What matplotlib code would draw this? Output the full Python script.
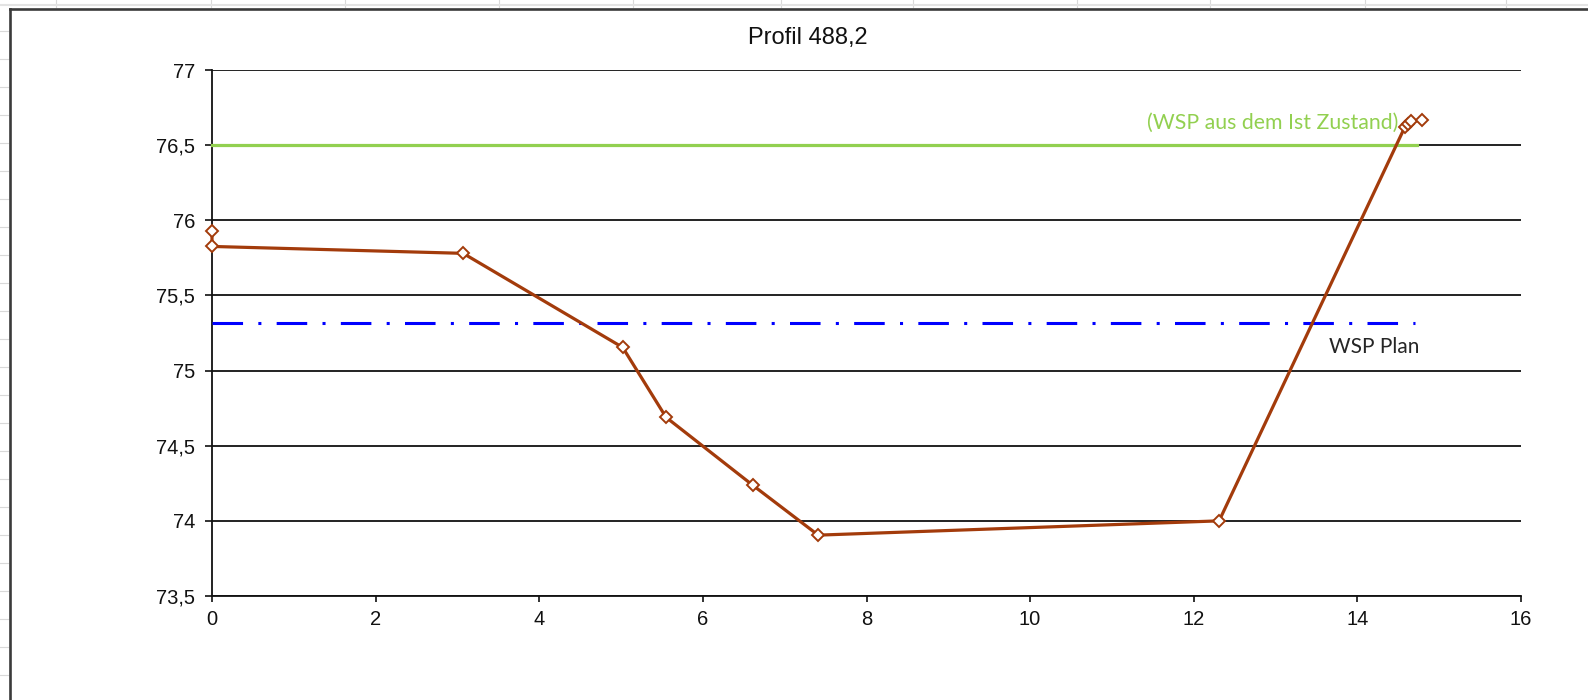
import numpy as np
import matplotlib
matplotlib.use("Agg")
import matplotlib.pyplot as plt
from matplotlib.lines import Line2D
from matplotlib.ticker import FuncFormatter

# Profil 488,2 - Gelaendepunkte (Station, Hoehe)
station = [0.0, 0.0, 3.07, 5.02, 5.55, 6.61, 7.41, 12.31, 14.58, 14.62, 14.66, 14.79]
hoehe = [75.926, 75.826, 75.78, 75.154, 74.689, 74.237, 73.905, 74.0, 76.62, 76.64, 76.66, 76.665]

# Wasserspiegel
wsp_ist_x = [0.0, 14.73]
wsp_ist_y = [76.5, 76.5]
wsp_plan_x = [0.0, 14.70]
wsp_plan_y = [75.315, 75.315]

titel = "Profil 488,2"
label_ist = "(WSP aus dem Ist Zustand)"
label_plan = "WSP Plan"

W, H = 1588, 700

fig = plt.figure(figsize=(W / 100, H / 100), dpi=100)
fig.patch.set_facecolor("white")

# Tabellen-Gitter im Hintergrund (Excel)
spalten_px = [56, 211, 345, 499, 633, 781, 913, 1077, 1210, 1365, 1506]
for xp in spalten_px:
    fig.add_artist(Line2D([xp / W, xp / W], [1, 1 - 7 / H], color="#d9d9d9", lw=0.8))
fig.add_artist(Line2D([0, 1], [1 - 5 / H, 1 - 5 / H], color="#e3e3e3", lw=1.5))
for k in range(25):
    yp = 31.3 + 28 * k
    fig.add_artist(Line2D([0, 8 / W], [1 - yp / H, 1 - yp / H], color="#d9d9d9", lw=0.8))

# Diagramm-Rahmen
fig.add_artist(Line2D([10 / W, 1], [1 - 8.7 / H, 1 - 8.7 / H], color="#3a3a3a", lw=1.9))
fig.add_artist(Line2D([10 / W, 10 / W], [0, 1 - 8.7 / H], color="#3a3a3a", lw=1.9))

ax = fig.add_axes([212 / W, 1 - 596 / H, (1521 - 212) / W, (596 - 70) / H])
ax.set_facecolor("none")

ax.set_xlim(0, 16)
ax.set_ylim(73.5, 77)
ax.set_xticks(np.arange(0, 17, 2))
ax.set_yticks(np.arange(73.5, 77.01, 0.5))

komma = FuncFormatter(lambda v, p: f"{v:g}".replace(".", ","))
ax.xaxis.set_major_formatter(komma)
ax.yaxis.set_major_formatter(komma)

ax.grid(True, axis="y", color="#111111", lw=1.3)
ax.set_axisbelow(True)
for s in ["top", "right"]:
    ax.spines[s].set_visible(False)
for s in ["left", "bottom"]:
    ax.spines[s].set_color("#111111")
    ax.spines[s].set_linewidth(1.3)

ax.tick_params(axis="y", direction="out", length=5, width=1.2, pad=7,
               labelsize=14.5, colors="#111111")
ax.tick_params(axis="x", direction="out", length=4, width=1.2, pad=6,
               labelsize=14.5, colors="#111111")
for lab in ax.get_xticklabels() + ax.get_yticklabels():
    lab.set_fontfamily("Liberation Sans")

ax.plot(wsp_ist_x, wsp_ist_y, color="#92d050", lw=2.3, zorder=3, clip_on=False)
ax.plot(wsp_plan_x, wsp_plan_y, color="#0000ff", lw=2.2, dashes=(10, 5, 1, 5),
        zorder=3, clip_on=False)

ax.plot(station, hoehe, color="#a33b0b", lw=2.3, marker="D", ms=6,
        mfc="white", mec="#a33b0b", mew=1.4, zorder=5, clip_on=False)

ax.text(14.50, 76.645, label_ist, color="#92d050", fontsize=15.3,
        family="Lato", ha="right", va="center", zorder=4)
ax.text(14.2, 75.155, label_plan, color="#262626", fontsize=15,
        family="Lato", ha="center", va="center", zorder=4)

fig.text(808 / W, 1 - 38 / H, titel, fontsize=17, family="Liberation Sans",
         color="#111111", ha="center", va="center")

fig.savefig("out.png", dpi=100)
